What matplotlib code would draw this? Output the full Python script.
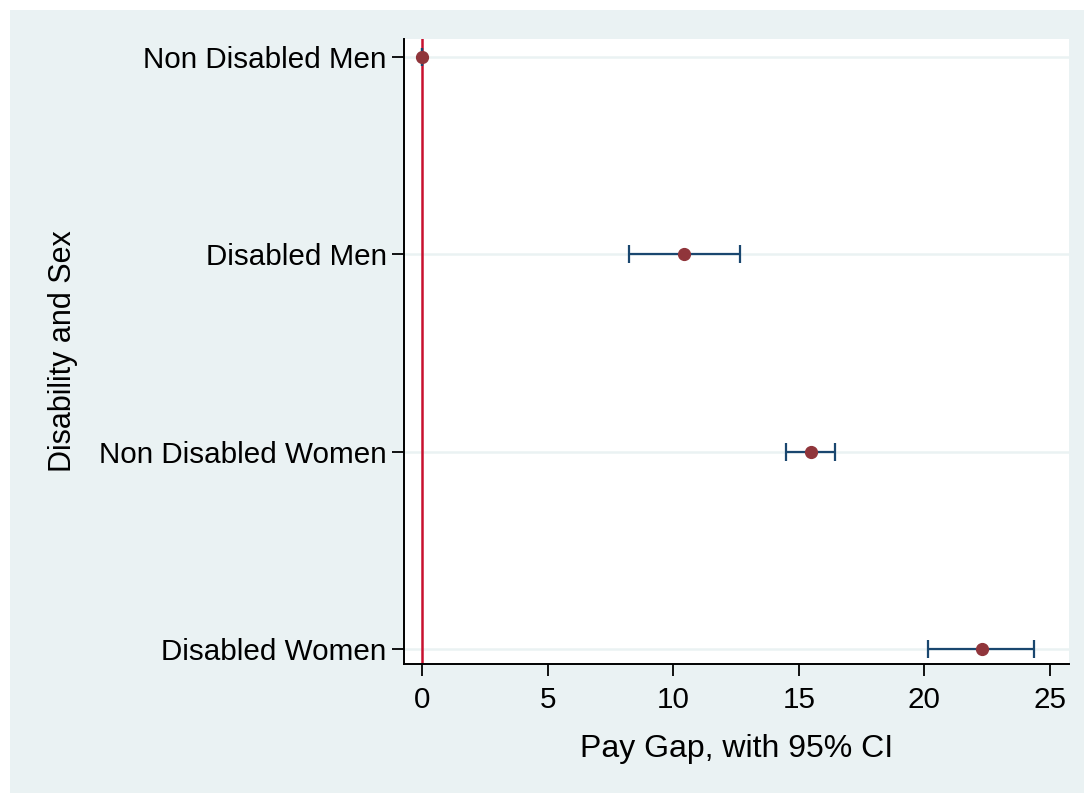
import matplotlib
matplotlib.use("Agg")
import matplotlib.pyplot as plt
from matplotlib.patches import Rectangle

plt.rcParams['font.family'] = ['Liberation Sans', 'DejaVu Sans']

# Pay gap estimates with 95% confidence intervals
groups = ["Non Disabled Men", "Disabled Men", "Non Disabled Women", "Disabled Women"]
pay_gap = [0.0, 10.45, 15.5, 22.3]
ci_low = [0.0, 8.25, 14.5, 20.15]
ci_high = [0.0, 12.65, 16.45, 24.35]
x_ticks = [0, 5, 10, 15, 20, 25]

BG = "#EAF2F3"
NAVY = "#1A476F"
MAROON = "#90353B"
RED = "#C8102E"

W, H = 1084, 793
fig = plt.figure(figsize=(W / 100, H / 100), dpi=100, facecolor="white")
# graph region background, inset from the top-left edges
fig.patches.append(Rectangle((10 / W, 0), 1 - 10 / W, 1 - 10 / H,
                             transform=fig.transFigure, facecolor=BG,
                             edgecolor="none", zorder=-10))

ax = fig.add_axes([404 / W, 1 - 664 / H, (1069 - 404) / W, (664 - 39) / H])
ax.set_facecolor("white")

ypos = list(range(len(groups)))

# horizontal grid lines at each category
for y in ypos:
    ax.axhline(y, color=BG, lw=1.8, zorder=0)

# reference line at zero
ax.axvline(0, color=RED, lw=1.8, zorder=1)

err_lo = [p - l for p, l in zip(pay_gap, ci_low)]
err_hi = [h - p for p, h in zip(pay_gap, ci_high)]
ax.errorbar(pay_gap, ypos, xerr=[err_lo, err_hi], fmt="none",
            ecolor=NAVY, elinewidth=1.6, capsize=6.5, capthick=1.6, zorder=2)
ax.plot(pay_gap, ypos, "o", color=MAROON, markersize=8.5, zorder=3)

ax.set_xlim(-0.717, 25.76)
ax.set_ylim(3.077, -0.091)
ax.set_xticks(x_ticks)
ax.set_yticks(ypos)
ax.set_yticklabels(groups)

for side in ("top", "right"):
    ax.spines[side].set_visible(False)
for side in ("left", "bottom"):
    ax.spines[side].set_linewidth(1.4)
    ax.spines[side].set_color("black")

ax.tick_params(axis="both", direction="out", length=8.5, width=1.3,
               labelsize=21.3, colors="black")
ax.tick_params(axis="y", pad=4)
ax.tick_params(axis="x", pad=7)

ax.set_xlabel("Pay Gap, with 95% CI", fontsize=23, labelpad=15)
ax.set_ylabel("Disability and Sex", fontsize=22, labelpad=15)

fig.savefig("out.png", dpi=100, facecolor="white")
